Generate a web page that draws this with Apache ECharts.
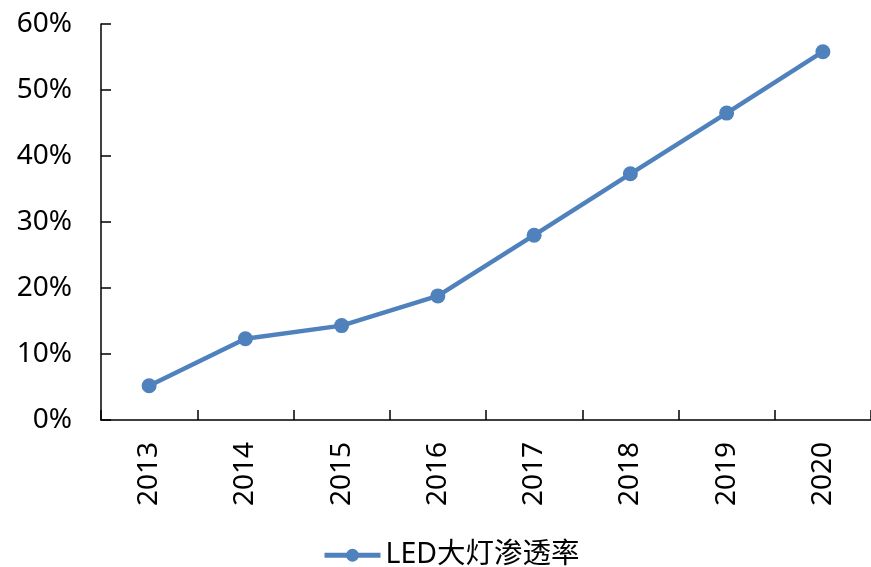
<!DOCTYPE html>
<html>
<head>
<meta charset="utf-8">
<script src="https://cdn.jsdelivr.net/npm/echarts@6/dist/echarts.min.js"></script>
<style>
  html, body { margin: 0; padding: 0; background: #fff; }
  #chart { width: 871px; height: 567px; }
</style>
</head>
<body>
<div id="chart"></div>
<script>
// Years on the category axis
const years = ['2013', '2014', '2015', '2016', '2017', '2018', '2019', '2020'];
// LED headlamp penetration rate, percent
const penetration = [5.2, 12.3, 14.3, 18.8, 28.0, 37.3, 46.5, 55.8];
const seriesName = 'LED大灯渗透率';

const font = '"Noto Sans", "Noto Sans CJK SC", sans-serif';
const blue = '#4F81BD';

const chart = echarts.init(document.getElementById('chart'));
chart.setOption({
  animation: false,
  backgroundColor: '#fff',
  grid: { left: 101, right: 0, top: 24, bottom: 147, containLabel: false },
  legend: {
    data: [seriesName],
    left: 322,
    top: 541,
    padding: 0,
    itemWidth: 56,
    itemHeight: 16,
    itemGap: 4,
    lineStyle: { width: 5, color: blue },
    itemStyle: { color: blue },
    textStyle: { fontFamily: font, fontSize: 28.5, color: '#000', padding: [0, 0, 0, 0] }
  },
  xAxis: {
    type: 'category',
    data: years,
    boundaryGap: true,
    axisLine: { lineStyle: { color: '#000', width: 1.5 } },
    axisTick: { show: true, inside: true, length: 10, alignWithLabel: false, lineStyle: { color: '#000', width: 1.5 } },
    axisLabel: { rotate: 90, margin: 22, fontFamily: font, fontSize: 28, color: '#000' },
    splitLine: { show: false }
  },
  yAxis: {
    type: 'value',
    min: 0,
    max: 60,
    interval: 10,
    axisLine: { show: true, lineStyle: { color: '#000', width: 1.5 } },
    axisTick: { show: true, inside: true, length: 10, lineStyle: { color: '#000', width: 1.5 } },
    axisLabel: { formatter: '{value}%', margin: 29, fontFamily: font, fontSize: 28, color: '#000' },
    splitLine: { show: false }
  },
  series: [{
    name: seriesName,
    type: 'line',
    data: penetration,
    symbol: 'circle',
    symbolSize: 15,
    lineStyle: { color: blue, width: 4.5 },
    itemStyle: { color: blue }
  }]
});
</script>
</body>
</html>
